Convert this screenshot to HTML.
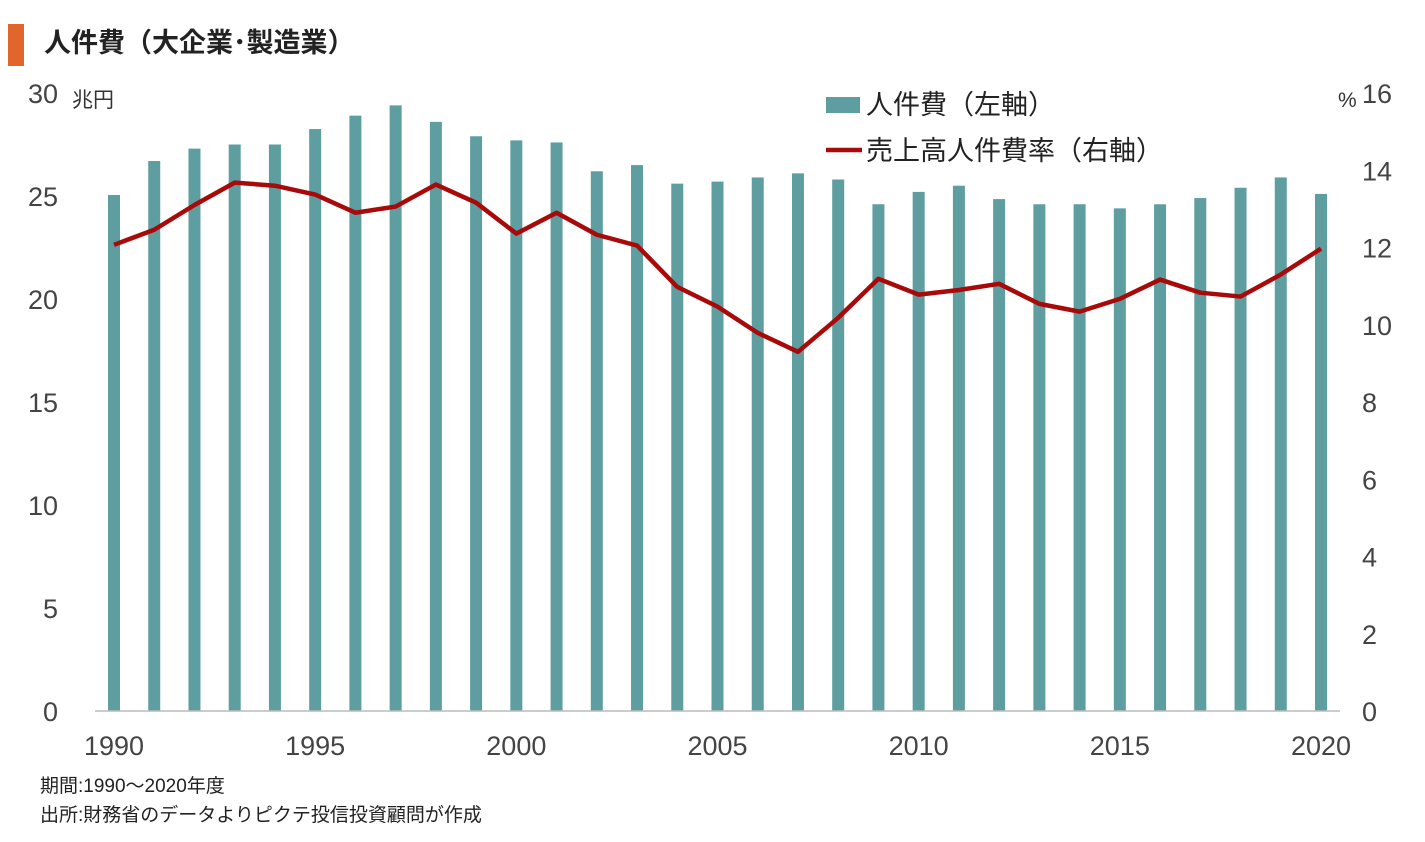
<!DOCTYPE html>
<html><head><meta charset="utf-8"><style>
body{margin:0;background:#fff;width:1425px;height:837px;overflow:hidden;font-family:"Liberation Sans","Noto Sans CJK JP",sans-serif;}
svg text{font-family:"Liberation Sans","Noto Sans CJK JP",sans-serif;}
</style></head><body>
<svg id="chart" width="1425" height="837" xmlns="http://www.w3.org/2000/svg">
<rect x="8" y="24" width="16" height="42" fill="#e0662c"/>
<text x="44" y="52" font-size="27" fill="#222" font-weight="bold">人件費（大企業･製造業）</text>
<text x="72" y="107" font-size="21" fill="#333">兆円</text>
<text x="1338" y="107" font-size="21" fill="#333">%</text>
<g id="bars"></g><g id="ticks"></g>
<line x1="95" y1="711" x2="1340" y2="711" stroke="#bbb" stroke-width="1.5"/>
<path id="line" fill="none" stroke="#a80a0a" stroke-width="4.5" stroke-linejoin="round"/>
<g>
<rect x="826" y="97" width="34" height="16" fill="#5f9ea0"/>
<text x="866" y="114" font-size="27" fill="#222">人件費（左軸）</text>
<line x1="826" y1="150" x2="862" y2="150" stroke="#a80a0a" stroke-width="4.5"/>
<text x="866" y="160" font-size="27" fill="#222">売上高人件費率（右軸）</text>
</g>
<text x="40" y="792" font-size="19" fill="#222">期間:1990～2020年度</text>
<text x="40" y="821" font-size="19" fill="#222">出所:財務省のデータよりピクテ投信投資顧問が作成</text>
</svg>
<script>
const years=[1990,1991,1992,1993,1994,1995,1996,1997,1998,1999,2000,2001,2002,2003,2004,2005,2006,2007,2008,2009,2010,2011,2012,2013,2014,2015,2016,2017,2018,2019,2020];
const laborCost=[25.05,26.7,27.3,27.5,27.5,28.25,28.9,29.4,28.6,27.9,27.7,27.6,26.2,26.5,25.6,25.7,25.9,26.1,25.8,24.6,25.2,25.5,24.85,24.6,24.6,24.4,24.6,24.9,25.4,25.9,25.1];
const ratio=[12.07,12.46,13.1,13.68,13.6,13.37,12.9,13.06,13.63,13.16,12.36,12.9,12.33,12.05,10.98,10.47,9.79,9.3,10.18,11.19,10.78,10.9,11.06,10.54,10.34,10.67,11.17,10.83,10.73,11.3,11.97];
const leftTicks=[0,5,10,15,20,25,30];
const rightTicks=[0,2,4,6,8,10,12,14,16];
const xTicks=[1990,1995,2000,2005,2010,2015,2020];
const NS="http://www.w3.org/2000/svg";
const x=y=>114+(y-1990)*(1207/30);
const yL=v=>711-v*(618/30);
const yR=v=>711-v*(618/16);
function mk(t,a,p){const e=document.createElementNS(NS,t);for(const k in a)e.setAttribute(k,a[k]);p.appendChild(e);return e;}
const bars=document.getElementById('bars'),ticks=document.getElementById('ticks');
years.forEach((yr,i)=>{const r=mk('rect',{x:x(yr)-6,y:yL(laborCost[i]),width:12,height:711-yL(laborCost[i]),fill:'#5f9ea0'},bars);

});
leftTicks.forEach(v=>{const t=mk('text',{x:58,y:yL(v)+10,'font-size':27,fill:'#444','text-anchor':'end'},ticks);t.textContent=v;

});
rightTicks.forEach(v=>{const t=mk('text',{x:1362,y:yR(v)+10,'font-size':27,fill:'#444'},ticks);t.textContent=v;

});
xTicks.forEach(v=>{const t=mk('text',{x:x(v),y:755,'font-size':27,fill:'#444','text-anchor':'middle'},ticks);t.textContent=v;

});
document.getElementById('line').setAttribute('d',years.map((yr,i)=>(i?'L':'M')+x(yr)+','+yR(ratio[i])).join(''));
</script>
</body></html>
